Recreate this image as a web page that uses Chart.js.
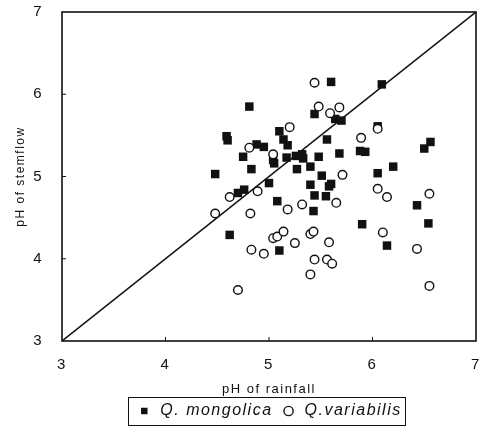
<!DOCTYPE html>
<html>
<head>
<meta charset="utf-8">
<script src="https://cdn.jsdelivr.net/npm/chart.js@4/dist/chart.umd.min.js"></script>
<style>
  html, body { margin: 0; padding: 0; background: #fff; }
</style>
</head>
<body>
<canvas id="chart" width="480" height="435"></canvas>
<script>
// pH of rainfall (x) against pH of stemflow (y)
const mongolicaX = [4.48, 4.59, 4.60, 4.62, 4.70, 4.76, 4.75, 4.81, 4.83, 4.88, 4.95, 5.00, 5.04, 5.05, 5.08, 5.10, 5.10,
    5.14, 5.18, 5.17, 5.26, 5.27, 5.32, 5.33, 5.40, 5.40, 5.43, 5.44, 5.44, 5.48, 5.51, 5.55, 5.56, 5.58, 5.60,
    5.60, 5.64, 5.70, 5.68, 5.88, 5.93, 5.90, 6.05, 6.05, 6.09, 6.14, 6.20, 6.43, 6.50, 6.56, 6.54];
const mongolicaY = [5.03, 5.49, 5.44, 4.29, 4.80, 4.84, 5.24, 5.85, 5.09, 5.39, 5.36, 4.92, 5.20, 5.16, 4.70, 4.10, 5.55,
    5.45, 5.38, 5.23, 5.25, 5.09, 5.27, 5.22, 5.12, 4.90, 4.58, 4.77, 5.76, 5.24, 5.01, 4.76, 5.45, 4.88, 4.91,
    6.15, 5.70, 5.68, 5.28, 5.31, 5.30, 4.42, 5.61, 5.04, 6.12, 4.16, 5.12, 4.65, 5.34, 5.42, 4.43];

const variabilisX = [4.48, 4.62, 4.70, 4.81, 4.82, 4.83, 4.89, 4.95, 5.04, 5.04, 5.08, 5.14, 5.18, 5.20, 5.25, 5.32,
    5.40, 5.43, 5.40, 5.44, 5.44, 5.48, 5.56, 5.58, 5.59, 5.61, 5.65, 5.68, 5.71, 5.89, 6.05, 6.05, 6.10, 6.14,
    6.43, 6.55, 6.55];
const variabilisY = [4.55, 4.75, 3.62, 5.35, 4.55, 4.11, 4.82, 4.06, 5.27, 4.25, 4.27, 4.33, 4.60, 5.60, 4.19, 4.66,
    4.30, 4.33, 3.81, 3.99, 6.14, 5.85, 3.99, 4.20, 5.77, 3.94, 4.68, 5.84, 5.02, 5.47, 5.58, 4.85, 4.32, 4.75,
    4.12, 4.79, 3.67];

const axisTicks = [3, 4, 5, 6, 7];
const oneToOne = [3, 7];

const ink = '#111';
const fontFamily = "'Liberation Sans', Arial, sans-serif";

function toPoints(xs, ys) {
    return xs.map((x, i) => ({ x: x, y: ys[i] }));
}

// the lettering on this figure is spaced out a little
const spacingPlugin = {
    id: 'spacing',
    beforeLayout(chart) { chart.ctx.letterSpacing = '1.5px'; },
    beforeDraw(chart) { chart.ctx.letterSpacing = '1.5px'; }
};

// frame round the plot, inward tick marks, and a box round the legend
const framePlugin = {
    id: 'frame',
    afterDatasetsDraw(chart) {
        const { ctx, chartArea: a, scales } = chart;
        ctx.save();
        ctx.strokeStyle = ink;
        ctx.lineWidth = 1.6;
        ctx.strokeRect(a.left, a.top, a.right - a.left, a.bottom - a.top);
        ctx.lineWidth = 1;
        ctx.beginPath();
        axisTicks.slice(1, -1).forEach(v => {
            const px = scales.x.getPixelForValue(v);
            ctx.moveTo(px, a.bottom);
            ctx.lineTo(px, a.bottom - 4);
            const py = scales.y.getPixelForValue(v);
            ctx.moveTo(a.left, py);
            ctx.lineTo(a.left + 4, py);
        });
        ctx.stroke();
        ctx.restore();
    },
    afterDraw(chart) {
        const boxes = chart.legend && chart.legend.legendHitBoxes;
        if (!boxes || !boxes.length) return;
        const left = Math.min(...boxes.map(b => b.left)) - 8;
        const right = Math.max(...boxes.map(b => b.left + b.width)) + 4;
        const top = Math.min(...boxes.map(b => b.top)) - 6;
        const bottom = Math.max(...boxes.map(b => b.top + b.height)) + 6;
        const ctx = chart.ctx;
        ctx.save();
        ctx.strokeStyle = ink;
        ctx.lineWidth = 1;
        ctx.strokeRect(Math.round(left) + 0.5, Math.round(top) + 0.5, Math.round(right - left), Math.round(bottom - top));
        ctx.restore();
    }
};

new Chart(document.getElementById('chart'), {
    type: 'scatter',
    data: {
        datasets: [
            {
                label: 'Q. mongolica',
                data: toPoints(mongolicaX, mongolicaY),
                pointStyle: 'rect',
                pointRadius: 6,
                backgroundColor: ink,
                borderColor: ink,
                borderWidth: 0,
                order: 1
            },
            {
                label: 'Q.variabilis',
                data: toPoints(variabilisX, variabilisY),
                pointStyle: 'circle',
                pointRadius: 4.3,
                backgroundColor: '#fff',
                borderColor: ink,
                borderWidth: 1.4,
                order: 0
            },
            {
                type: 'line',
                label: '1:1',
                data: toPoints(oneToOne, oneToOne),
                borderColor: ink,
                borderWidth: 1.5,
                pointRadius: 0,
                fill: false,
                order: 2
            }
        ]
    },
    options: {
        responsive: false,
        animation: false,
        layout: { autoPadding: false, padding: { top: 12, right: 4, left: 0, bottom: 6 } },
        plugins: {
            tooltip: { enabled: false },
            legend: {
                position: 'bottom',
                fullSize: false,
                labels: {
                    filter: item => item.text !== '1:1',
                    sort: (a, b) => a.datasetIndex - b.datasetIndex,
                    usePointStyle: true,
                    boxHeight: 6.5,
                    padding: 8,
                    color: ink,
                    font: { family: fontFamily, size: 16, style: 'italic' }
                }
            }
        },
        scales: {
            x: {
                type: 'linear',
                min: 3,
                max: 7,
                afterFit: scale => {
                    scale.height = 54;
                    scale.paddingLeft = 0;
                    scale.paddingRight = 0;
                },
                grid: { display: false, drawTicks: false },
                border: { display: false },
                ticks: {
                    stepSize: 1,
                    padding: 15,
                    color: ink,
                    font: { family: fontFamily, size: 15 }
                },
                title: {
                    display: true,
                    text: 'pH of rainfall',
                    color: ink,
                    padding: { top: 0, bottom: -2 },
                    font: { family: fontFamily, size: 13 }
                }
            },
            y: {
                type: 'linear',
                min: 3,
                max: 7,
                afterFit: scale => {
                    scale.width = 62;
                    scale.paddingTop = 0;
                    scale.paddingBottom = 0;
                },
                grid: { display: false, drawTicks: false },
                border: { display: false },
                ticks: {
                    stepSize: 1,
                    padding: 19,
                    color: ink,
                    font: { family: fontFamily, size: 15 }
                },
                title: {
                    display: true,
                    text: 'pH of stemflow',
                    color: ink,
                    padding: { top: 13, bottom: 0 },
                    font: { family: fontFamily, size: 12 }
                }
            }
        }
    },
    plugins: [spacingPlugin, framePlugin]
});
</script>
</body>
</html>
